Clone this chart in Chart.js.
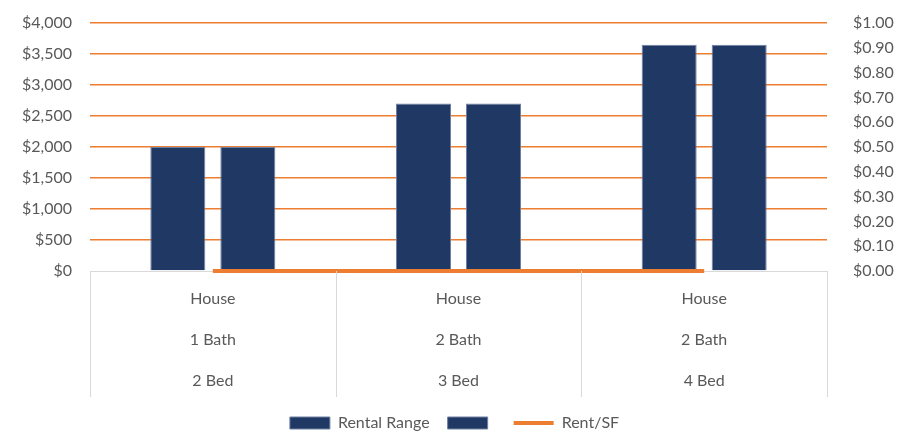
<!DOCTYPE html>
<html>
<head>
<meta charset="utf-8">
<script src="https://cdn.jsdelivr.net/npm/chart.js@4/dist/chart.umd.min.js"></script>
<style>
  html, body { margin: 0; padding: 0; background: #fff; }
  #wrap { width: 909px; height: 442px; }
</style>
</head>
<body>
<div id="wrap"><canvas id="canvas-1" width="909" height="442"></canvas></div>
<script>
  'use strict';

  var categories = [
    ['House', '1 Bath', '2 Bed'],
    ['House', '2 Bath', '3 Bed'],
    ['House', '2 Bath', '4 Bed']
  ];
  var rentalLow = [2000, 2700, 3650];
  var rentalHigh = [2000, 2700, 3650];
  var rentPerSf = [0, 0, 0];

  var navy = '#203864';
  var orange = '#ED7D31';
  var textGray = '#595959';
  var lightGray = '#D9D9D9';

  // vertical separators in the category label area
  var categoryBoxes = {
    id: 'categoryBoxes',
    afterDraw: function(chart) {
      var x = chart.scales.x;
      var ctx = chart.ctx;
      var area = chart.chartArea;
      var half = (x.getPixelForValue(1) - x.getPixelForValue(0)) / 2;
      ctx.save();
      ctx.strokeStyle = lightGray;
      ctx.lineWidth = 1;
      for (var i = 0; i <= categories.length; i++) {
        var px = Math.round(x.getPixelForValue(i) - half) + 0.5;
        ctx.beginPath();
        ctx.moveTo(px, area.bottom);
        ctx.lineTo(px, x.bottom);
        ctx.stroke();
      }
      ctx.restore();
    }
  };

  Chart.defaults.font.family = 'Lato, "Open Sans", sans-serif';
  Chart.defaults.font.size = 16;
  Chart.defaults.color = textGray;

  var ctx = document.getElementById('canvas-1');
  var chart = new Chart(ctx, {
    type: 'bar',
    data: {
      labels: categories,
      datasets: [
        {
          label: 'Rental Range',
          data: rentalLow,
          backgroundColor: navy,
          borderColor: '#6F81A3',
          borderWidth: 1,
          yAxisID: 'y',
          order: 1,
          pointStyle: 'rect'
        },
        {
          label: '',
          data: rentalHigh,
          backgroundColor: navy,
          borderColor: '#6F81A3',
          borderWidth: 1,
          yAxisID: 'y',
          order: 1,
          pointStyle: 'rect'
        },
        {
          type: 'line',
          label: 'Rent/SF',
          data: rentPerSf,
          borderColor: orange,
          backgroundColor: orange,
          borderWidth: 4,
          pointRadius: 0,
          pointStyle: 'line',
          clip: false,
          yAxisID: 'y1',
          order: 0
        }
      ]
    },
    options: {
      responsive: false,
      animation: false,
      layout: { padding: { top: 0, bottom: 1 } },
      datasets: {
        bar: { categoryPercentage: 0.57, barPercentage: 0.786 }
      },
      plugins: {
        legend: {
          position: 'bottom',
          labels: {
            usePointStyle: true,
            pointStyleWidth: 40,
            boxHeight: 12,
            padding: 18,
            color: textGray,
            sort: function(a, b) { return a.datasetIndex - b.datasetIndex; }
          }
        },
        tooltip: { enabled: false }
      },
      scales: {
        x: {
          grid: { display: false },
          border: { display: true, color: lightGray, width: 1 },
          ticks: {
            color: textGray,
            padding: -1,
            font: { size: 16, lineHeight: 2.56 }
          },
          afterFit: function(scale) { scale.height = 126; }
        },
        y: {
          position: 'left',
          min: 0,
          max: 4000,
          ticks: {
            stepSize: 500,
            padding: 18,
            color: textGray,
            font: { size: 16, lineHeight: 0.625 },
            callback: function(v) { return '$' + v.toLocaleString('en-US'); }
          },
          grid: {
            drawTicks: false,
            color: function(c) { return c.tick && c.tick.value === 0 ? 'rgba(0,0,0,0)' : orange; },
            lineWidth: 1.5
          },
          border: { display: false },
          afterFit: function(scale) { scale.width = 90; }
        },
        y1: {
          position: 'right',
          min: 0,
          max: 1,
          ticks: {
            stepSize: 0.1,
            padding: 18,
            color: textGray,
            font: { size: 16, lineHeight: 0.625 },
            callback: function(v) { return '$' + Number(v).toFixed(2); }
          },
          grid: { display: false },
          border: { display: false },
          afterFit: function(scale) { scale.width = 82; }
        }
      }
    },
    plugins: [categoryBoxes]
  });
</script>
</body>
</html>
